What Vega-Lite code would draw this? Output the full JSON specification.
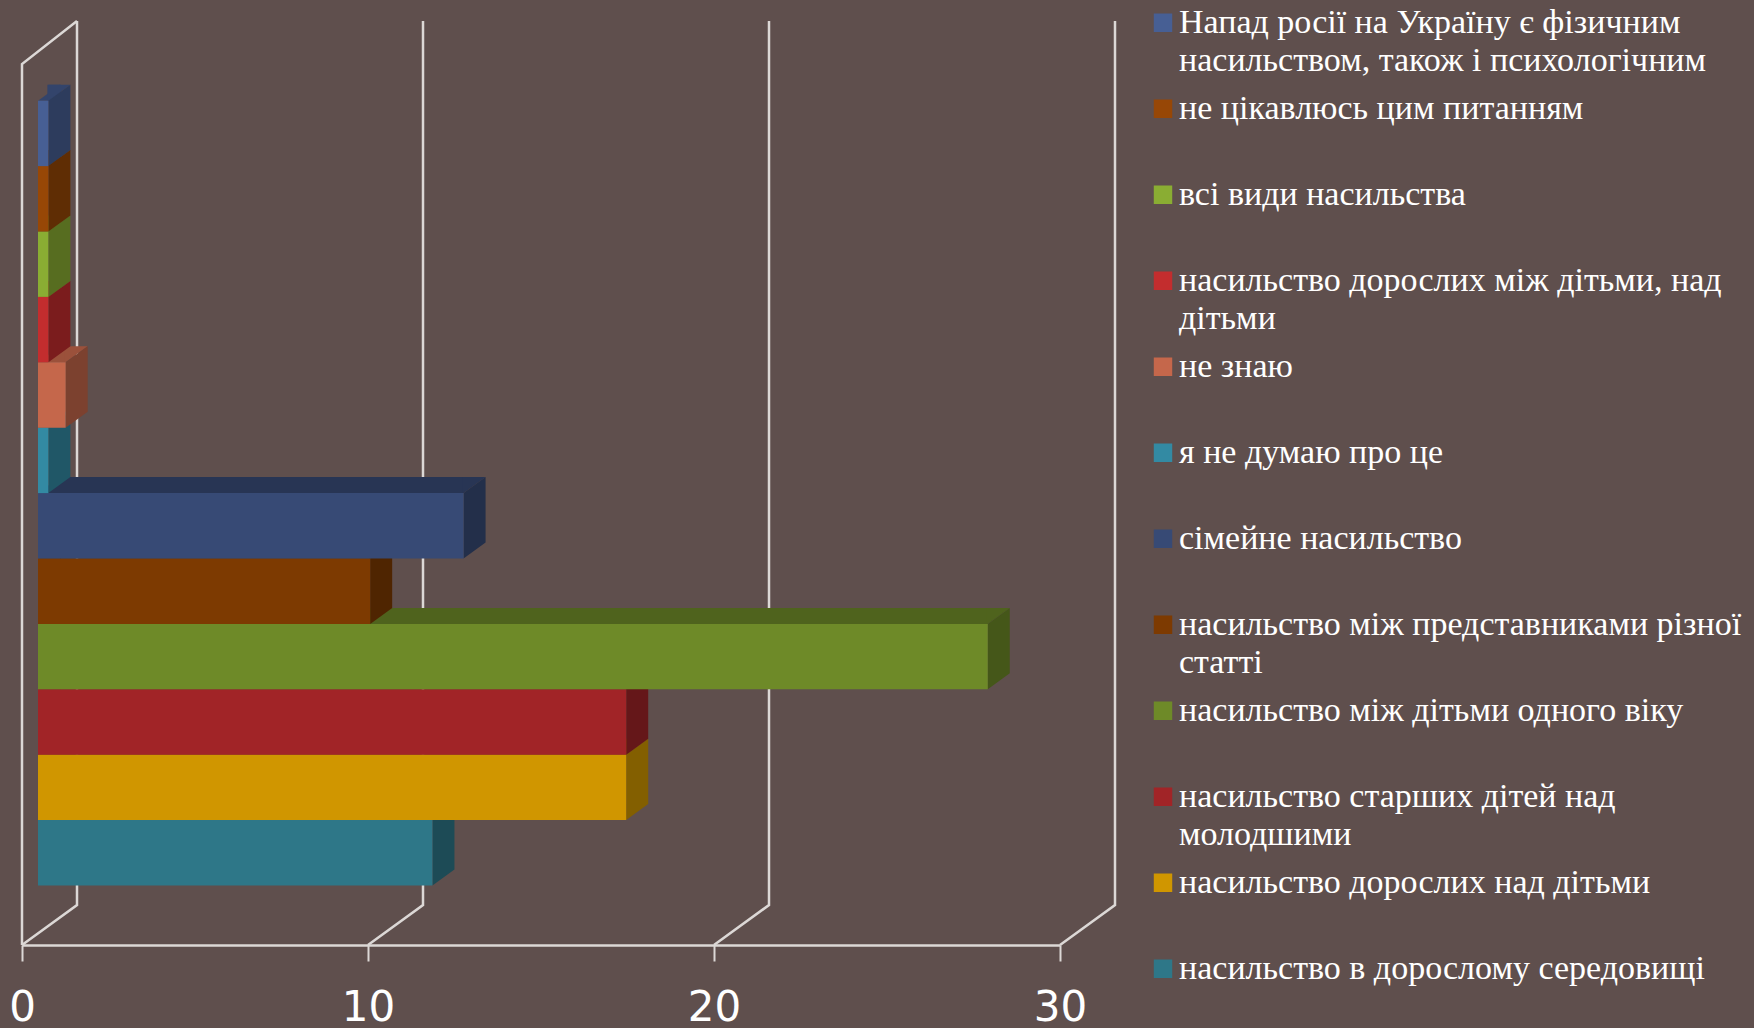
{
"$schema":"https://vega.github.io/schema/vega-lite/v6.json",
"width":1038,"height":924,
"autosize":{"type":"none"},
"padding":{"left":22,"top":21,"right":694,"bottom":83},
"background":"#5f4f4d",
"config":{"view":{"stroke":null}},
"data":{"values":[
{"name":"насильство в дорослому середовищі","value":11.4},
{"name":"насильство дорослих над дітьми","value":17.0},
{"name":"насильство старших дітей над\nмолодшими","value":17.0},
{"name":"насильство між дітьми одного віку","value":27.45},
{"name":"насильство між представниками різної\nстатті","value":9.6},
{"name":"сімейне насильство","value":12.3},
{"name":"я не думаю про це","value":0.3},
{"name":"не знаю","value":0.8},
{"name":"насильство дорослих між дітьми, над\nдітьми","value":0.3},
{"name":"всі види насильства","value":0.3},
{"name":"не цікавлюсь цим питанням","value":0.3},
{"name":"Напад росії на Україну є фізичним\nнасильством, також і психологічним","value":0.3}
]},
"encoding":{
"y":{"field":"name","type":"nominal","axis":null,
"scale":{"domain":["Напад росії на Україну є фізичним\nнасильством, також і психологічним","не цікавлюсь цим питанням","всі види насильства","насильство дорослих між дітьми, над\nдітьми","не знаю","я не думаю про це","сімейне насильство","насильство між представниками різної\nстатті","насильство між дітьми одного віку","насильство старших дітей над\nмолодшими","насильство дорослих над дітьми","насильство в дорослому середовищі"],
"paddingInner":0,"paddingOuter":0,"range":[79.7,864.5],"round":false}}
},
"layer":[
{"data":{"values":[{"tick":0},{"tick":10},{"tick":20},{"tick":30}]},
"mark":{"type":"point","shape":"M0,92.2 L55,52.2 L55,-831.8","size":4,"filled":false,"stroke":"#dcd8d6","strokeWidth":2.5,"opacity":1},
"encoding":{"x":{"field":"tick","type":"quantitative","scale":{"domain":[0,30],"nice":false},
"axis":{"values":[0,10,20,30],"grid":false,"title":null,"domainColor":"#dcd8d6","domainWidth":2.5,"tickColor":"#dcd8d6","tickWidth":2,"tickSize":16,"labelColor":"#ffffff","labelFontSize":42,"labelFont":"DejaVu Sans","labelPadding":26,"labelFlush":false,"labelOverlap":false}},
"y":{"datum":"насильство в дорослому середовищі"}}},
{"data":{"values":[{"tick":0}]},
"mark":{"type":"point","shape":"M0,92.2 L0,-788.8 L55,-831.8","size":4,"filled":false,"stroke":"#dcd8d6","strokeWidth":2.5,"opacity":1},
"encoding":{"x":{"field":"tick","type":"quantitative"},"y":{"datum":"насильство в дорослому середовищі"}}},
{"mark":{"type":"rect","height":16,"xOffset":16,"x2Offset":38,"yOffset":-40.7,"opacity":1},
"encoding":{"x":{"field":"value","type":"quantitative"},"x2":{"datum":0},
"color":{"field":"name","type":"nominal","legend":null,"scale":{"domain":["Напад росії на Україну є фізичним\nнасильством, також і психологічним","не цікавлюсь цим питанням","всі види насильства","насильство дорослих між дітьми, над\nдітьми","не знаю","я не думаю про це","сімейне насильство","насильство між представниками різної\nстатті","насильство між дітьми одного віку","насильство старших дітей над\nмолодшими","насильство дорослих над дітьми","насильство в дорослому середовищі"],
"range":["#33446b","#6d3304","#637d25","#8c2021","#9b513b","#256375","#283554","#5a2a01","#4f631d","#741a1c","#966c00","#215662"]}}}},
{"mark":{"type":"point","shape":"M16,-32.7 L38,-48.7 L39,-48.7 L39,-32.7 Z","size":4,"filled":true,"opacity":1,"strokeWidth":0},
"encoding":{"x":{"datum":0},
"color":{"field":"name","type":"nominal","legend":null,"scale":{"domain":["Напад росії на Україну є фізичним\nнасильством, також і психологічним","не цікавлюсь цим питанням","всі види насильства","насильство дорослих між дітьми, над\nдітьми","не знаю","я не думаю про це","сімейне насильство","насильство між представниками різної\nстатті","насильство між дітьми одного віку","насильство старших дітей над\nмолодшими","насильство дорослих над дітьми","насильство в дорослому середовищі"],
"range":["#33446b","#6d3304","#637d25","#8c2021","#9b513b","#256375","#283554","#5a2a01","#4f631d","#741a1c","#966c00","#215662"]}}}},
{"mark":{"type":"point","shape":"M15,-32.7 L15,-48.7 L38,-48.7 L16,-32.7 Z","size":4,"filled":true,"opacity":1,"strokeWidth":0},
"encoding":{"x":{"field":"value","type":"quantitative"},
"color":{"field":"name","type":"nominal","legend":null,"scale":{"domain":["Напад росії на Україну є фізичним\nнасильством, також і психологічним","не цікавлюсь цим питанням","всі види насильства","насильство дорослих між дітьми, над\nдітьми","не знаю","я не думаю про це","сімейне насильство","насильство між представниками різної\nстатті","насильство між дітьми одного віку","насильство старших дітей над\nмолодшими","насильство дорослих над дітьми","насильство в дорослому середовищі"],
"range":["#33446b","#6d3304","#637d25","#8c2021","#9b513b","#256375","#283554","#5a2a01","#4f631d","#741a1c","#966c00","#215662"]}}}},
{"mark":{"type":"point","shape":"M16,-32.7 L38,-48.7 L38,16.7 L16,32.7 Z","size":4,"filled":true,"opacity":1,"strokeWidth":0},
"encoding":{"x":{"field":"value","type":"quantitative"},
"color":{"field":"name","type":"nominal","legend":null,"scale":{"domain":["Напад росії на Україну є фізичним\nнасильством, також і психологічним","не цікавлюсь цим питанням","всі види насильства","насильство дорослих між дітьми, над\nдітьми","не знаю","я не думаю про це","сімейне насильство","насильство між представниками різної\nстатті","насильство між дітьми одного віку","насильство старших дітей над\nмолодшими","насильство дорослих над дітьми","насильство в дорослому середовищі"],
"range":["#2d3c5d","#5f2d04","#576d20","#7b1c1d","#7c412f","#205767","#232f4a","#4f2501","#455719","#651719","#835f00","#1d4b56"]}}}},
{"mark":{"type":"rect","xOffset":16,"x2Offset":16,"opacity":1},
"encoding":{"x":{"field":"value","type":"quantitative"},"x2":{"datum":0},
"color":{"field":"name","type":"nominal","scale":{"domain":["Напад росії на Україну є фізичним\nнасильством, також і психологічним","не цікавлюсь цим питанням","всі види насильства","насильство дорослих між дітьми, над\nдітьми","не знаю","я не думаю про це","сімейне насильство","насильство між представниками різної\nстатті","насильство між дітьми одного віку","насильство старших дітей над\nмолодшими","насильство дорослих над дітьми","насильство в дорослому середовищі"],
"range":["#475f94","#974706","#8aad33","#c32d2e","#c5674b","#338aa3","#374a75","#7d3a01","#6e8a28","#a12427","#d09600","#2e7788"]},
"legend":{"title":null,"orient":"none","legendX":1124,"legendY":-21,"padding":0,"symbolType":"square","symbolSize":340,"symbolStrokeWidth":0,"clipHeight":85.6,"rowPadding":0,"labelFont":"Liberation Serif","labelFontSize":34,"labelColor":"#ffffff","labelOffset":-1,"labelLimit":700,"labelExpr":"split(datum.label,'\\n')","encoding":{"labels":{"lineHeight":{"value":38},"dy":{"value":-19.5}},"symbols":{"y":{"value":22.8}}}}}}}
],
"resolve":{"scale":{"color":"independent"},"legend":{"color":"independent"}}
}
